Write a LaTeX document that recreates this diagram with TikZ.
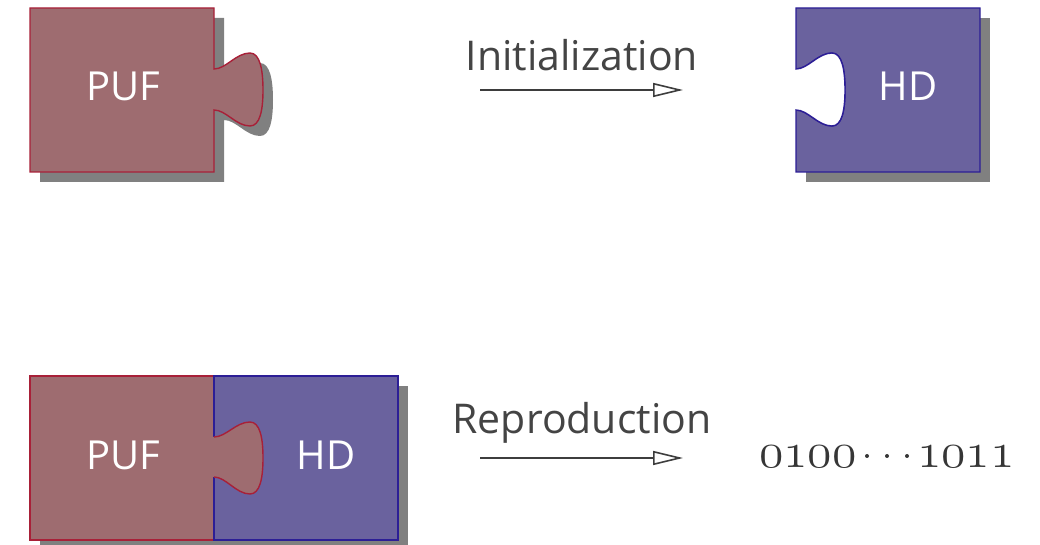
\documentclass[tikz,border=0pt]{standalone}
\usepackage{fontspec}
\setmainfont{Open Sans}
\usetikzlibrary{arrows.meta}
\definecolor{pufF}{RGB}{158,108,112}
\definecolor{pufD}{RGB}{168,32,56}
\definecolor{hdF}{RGB}{106,98,158}
\definecolor{hdD}{RGB}{44,30,150}
\definecolor{shad}{RGB}{128,128,128}
\definecolor{txt}{RGB}{68,68,68}
\begin{document}
\begin{tikzpicture}[x=0.5pt,y=-0.5pt,
  puf/.style={fill=pufF,draw=pufD,line width=0.7pt},
  hd/.style={fill=hdF,draw=hdD,line width=0.7pt},
  shadowfill/.style={fill=shad},
  lbl/.style={text=white,font=\fontsize{20}{24}\selectfont},
  steplabel/.style={text=txt,font=\fontsize{20.5}{24}\selectfont},
  bitstyle/.style={text=txt!80!black,font=\fontsize{23}{28}\selectfont,anchor=base,inner sep=0pt},
  bitdot/.style={circle,fill=txt!80!black,inner sep=0pt,minimum size=2pt},
  flow/.style={draw=txt!90!black,line width=0.8pt,-{Triangle[open,length=15pt,width=7pt]}}]
\useasboundingbox (0,0) rectangle (1040,545);
% ---------- top row ----------
\fill[shadowfill,shift={(10,10)}] (30,8) -- (214,8) -- (214,69)
  .. controls (226,69) and (236,53) .. (250,53)
  .. controls (260,53) and (263,70) .. (263,90)
  .. controls (263,110) and (260,126) .. (250,126)
  .. controls (236,126) and (226,110) .. (214,110)
  -- (214,172) -- (30,172) -- cycle;
\path[puf] (30,8) -- (214,8) -- (214,69)
  .. controls (226,69) and (236,53) .. (250,53)
  .. controls (260,53) and (263,70) .. (263,90)
  .. controls (263,110) and (260,126) .. (250,126)
  .. controls (236,126) and (226,110) .. (214,110)
  -- (214,172) -- (30,172) -- cycle;
\node[lbl] (puf1) at (123,86) {PUF};
\fill[shadowfill] (806,18) rectangle (990,182);
\path[fill=hdF,draw=hdD,line width=0.7pt] (796,8) -- (980,8) -- (980,172) -- (796,172) -- (796,110)
  .. controls (808,110) and (818,126) .. (832,126)
  .. controls (842,126) and (845,110) .. (845,90)
  .. controls (845,70) and (842,53) .. (832,53)
  .. controls (818,53) and (808,69) .. (796,69) -- cycle;
\path[fill=white,draw=hdD,line width=0.7pt] (796,69)
  .. controls (808,69) and (818,53) .. (832,53)
  .. controls (842,53) and (845,70) .. (845,90)
  .. controls (845,110) and (842,126) .. (832,126)
  .. controls (818,126) and (808,110) .. (796,110);
\node[lbl] (hd1) at (908,86) {HD};
\node[steplabel] (init) at (582,55) {Initialization};
\coordinate (a1s) at (480,90);
\coordinate (a1e) at (683,90);
\draw[flow] (a1s) -- (a1e);
% ---------- bottom row ----------
\fill[shadowfill] (40,386) rectangle (408,550);
\path[puf] (30,376) rectangle (214,540);
\path[hd] (214,376) rectangle (398,540);
\path[fill=pufF] (212,437) -- (214,437)
  .. controls (226,437) and (236,422) .. (250,422)
  .. controls (260,422) and (263,438) .. (263,458)
  .. controls (263,478) and (260,494) .. (250,494)
  .. controls (236,494) and (226,477) .. (214,477) -- (212,477) -- cycle;
\draw[draw=pufD,line width=0.7pt] (214,437)
  .. controls (226,437) and (236,422) .. (250,422)
  .. controls (260,422) and (263,438) .. (263,458)
  .. controls (263,478) and (260,494) .. (250,494)
  .. controls (236,494) and (226,477) .. (214,477);
\node[lbl] (puf2) at (123,455) {PUF};
\node[lbl] (hd2) at (326,455) {HD};
\node[steplabel] (repr) at (582,423) {Reproduction};
\coordinate (a2s) at (480,458);
\coordinate (a2e) at (683,458);
\draw[flow] (a2s) -- (a2e);
\node[bitstyle] (bitsA) at (808,467) {$\mathnormal{0100}$};
\node[bitdot] (dot1) at (867,456) {};
\node[bitdot] (dot2) at (887,456) {};
\node[bitdot] (dot3) at (907,456) {};
\node[bitstyle] (bitsB) at (966,467) {$\mathnormal{1011}$};
\end{tikzpicture}
\end{document}
